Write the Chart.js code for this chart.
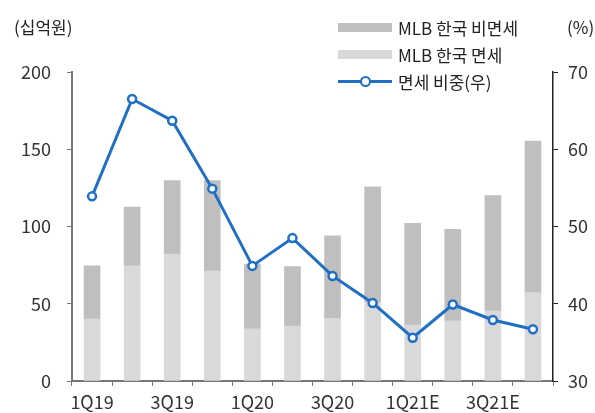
<!DOCTYPE html>
<html>
<head>
<meta charset="utf-8">
<script src="https://cdn.jsdelivr.net/npm/chart.js@4/dist/chart.umd.min.js"></script>
<style>
  body { margin: 0; background: #fff; }
  #wrap { position: relative; width: 595px; height: 413px; font-family: "Noto Sans CJK KR", "Noto Sans", sans-serif; color: #222; }
  .unit { position: absolute; font-size: 17px; line-height: 20px; }
  .legend { position: absolute; left: 338px; top: 14px; font-size: 17px; }
  .legend .row { display: flex; align-items: center; height: 27px; }
  .legend .box { width: 54px; height: 9px; margin-right: 6px; }
  .legend .lineSample { position: relative; width: 54px; height: 9px; margin-right: 6px; }
  .legend .lineSample::before { content: ""; position: absolute; left: 0; right: 0; top: 3px; height: 3px; background: #1f6fc5; }
  .legend .lineSample::after { content: ""; position: absolute; left: 22px; top: -1px; width: 7px; height: 7px; border: 2.5px solid #1f6fc5; border-radius: 50%; background: #fff; }
</style>
</head>
<body>
<div id="wrap">
  <canvas id="chart" width="595" height="413"></canvas>
  <div class="unit" style="left:14px; top:17px;">(십억원)</div>
  <div class="unit" style="left:567px; top:17px;">(%)</div>
  <div class="legend">
    <div class="row"><span class="box" style="background:#bfbfbf"></span>MLB 한국 비면세</div>
    <div class="row"><span class="box" style="background:#d9d9d9"></span>MLB 한국 면세</div>
    <div class="row"><span class="lineSample"></span>면세 비중(우)</div>
  </div>
</div>
<script>
// 분기
const quarters = ["1Q19", "2Q19", "3Q19", "4Q19", "1Q20", "2Q20", "3Q20", "4Q20", "1Q21E", "2Q21E", "3Q21E", "4Q21E"];

// MLB 한국 면세 (십억원)
const dutyFree = [40.1, 74.6, 82.2, 71.2, 33.7, 35.6, 40.5, 51.0, 36.2, 39.0, 45.3, 57.2];
// MLB 한국 비면세 (십억원)
const nonDutyFree = [34.4, 37.9, 47.5, 58.6, 42.0, 38.4, 53.5, 74.7, 65.8, 59.2, 74.7, 98.1];
// 면세 비중 (%)
const dutyFreeShare = [53.9, 66.5, 63.7, 54.9, 44.9, 48.5, 43.6, 40.1, 35.6, 39.9, 37.9, 36.7];

// 축 눈금
const leftTicks = [0, 50, 100, 150, 200];
const rightTicks = [30, 40, 50, 60, 70];

const tickFont = { family: "'Noto Sans CJK KR', 'Noto Sans', sans-serif", size: 18 };

const ctx = document.getElementById("chart").getContext("2d");
new Chart(ctx, {
  type: "bar",
  data: {
    labels: quarters,
    datasets: [
      { type: "line", label: "면세 비중(우)", data: dutyFreeShare, yAxisID: "y1", order: 0,
        borderColor: "#1f6fc5", borderWidth: 3, pointRadius: 4, pointBorderWidth: 2.5,
        pointBackgroundColor: "#fff", pointBorderColor: "#1f6fc5", tension: 0 },
      { label: "MLB 한국 면세", data: dutyFree, backgroundColor: "#d9d9d9", yAxisID: "y", order: 1, barThickness: 16 },
      { label: "MLB 한국 비면세", data: nonDutyFree, backgroundColor: "#bfbfbf", yAxisID: "y", order: 1, barThickness: 16 }
    ]
  },
  options: {
    responsive: false,
    animation: false,
    layout: { padding: { top: 72, left: 0, right: 0, bottom: 0 } },
    plugins: { legend: { display: false }, tooltip: { enabled: false } },
    scales: {
      x: {
        stacked: true,
        grid: { drawOnChartArea: false, tickLength: 5, color: "#777" },
        border: { color: "#777", width: 2 },
        ticks: {
          font: tickFont, color: "#333", padding: 5, maxRotation: 0, autoSkip: false,
          callback: function (val, i) { return i % 2 === 0 ? quarters[i] : ""; }
        },
        afterFit: s => { s.height = 32; }
      },
      y: {
        stacked: true, min: 0, max: 200,
        afterBuildTicks: s => { s.ticks = leftTicks.map(v => ({ value: v })); },
        grid: { drawOnChartArea: false, tickLength: 5, color: "#777" },
        border: { color: "#777", width: 2 },
        ticks: { font: tickFont, color: "#333", padding: 16 },
        afterFit: s => { s.width = 72; }
      },
      y1: {
        position: "right", min: 30, max: 70,
        afterBuildTicks: s => { s.ticks = rightTicks.map(v => ({ value: v })); },
        grid: { drawOnChartArea: false, tickLength: 5, color: "#222" },
        border: { color: "#222", width: 1.5 },
        ticks: { font: tickFont, color: "#333", padding: 10 },
        afterFit: s => { s.width = 42; }
      }
    }
  }
});
</script>
</body>
</html>
